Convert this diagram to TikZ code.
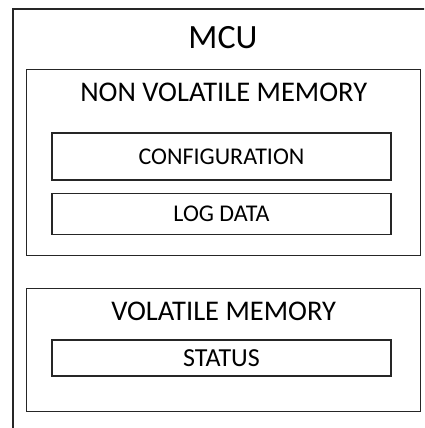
\documentclass[tikz,border=0pt]{standalone}
\usepackage{fontspec}
\setmainfont{Carlito}
\usetikzlibrary{positioning}
\tikzset{
    membox/.style={rectangle, draw=black!85, line width=1.4pt, inner sep=0pt},
    cellbox/.style={rectangle, draw=black!85, line width=1.2pt, minimum width=339pt, inner sep=0pt, font=\fontsize{24}{26}\selectfont},
    title/.style={inner sep=0pt, font=\fontsize{28.5}{30}\selectfont}
}

\begin{document}
\begin{tikzpicture}[x=1pt, y=-1pt]
    \clip (0,0) rectangle (424,428);
    % MCU frame runs off the page on the right and bottom
    \node (mcu) [membox, line width=1.6pt, minimum width=440pt, minimum height=450pt, anchor=north west] at (12,8) {};
    \node (mcutitle) [title, font=\fontsize{34}{36}\selectfont] at (223,38) {MCU};

    \node (nvm) [membox, minimum width=394pt, minimum height=186pt, anchor=north west] at (26,69) {};
    \node (nvmtitle) [title, below=14pt of nvm.north] {NON VOLATILE MEMORY};
    \node (config) [cellbox, minimum height=47pt] at (221.5,156.5) {CONFIGURATION};
    \node (logdata) [cellbox, minimum height=41pt, below=12pt of config] {LOG DATA};

    \node (vm) [membox, minimum width=394pt, minimum height=123pt, anchor=north west] at (26,288) {};
    \node (vmtitle) [title, below=14pt of vm.north] {VOLATILE MEMORY};
    \node (status) [cellbox, minimum height=36pt, font=\fontsize{26}{28}\selectfont] at (221.5,358) {STATUS};
\end{tikzpicture}
\end{document}
